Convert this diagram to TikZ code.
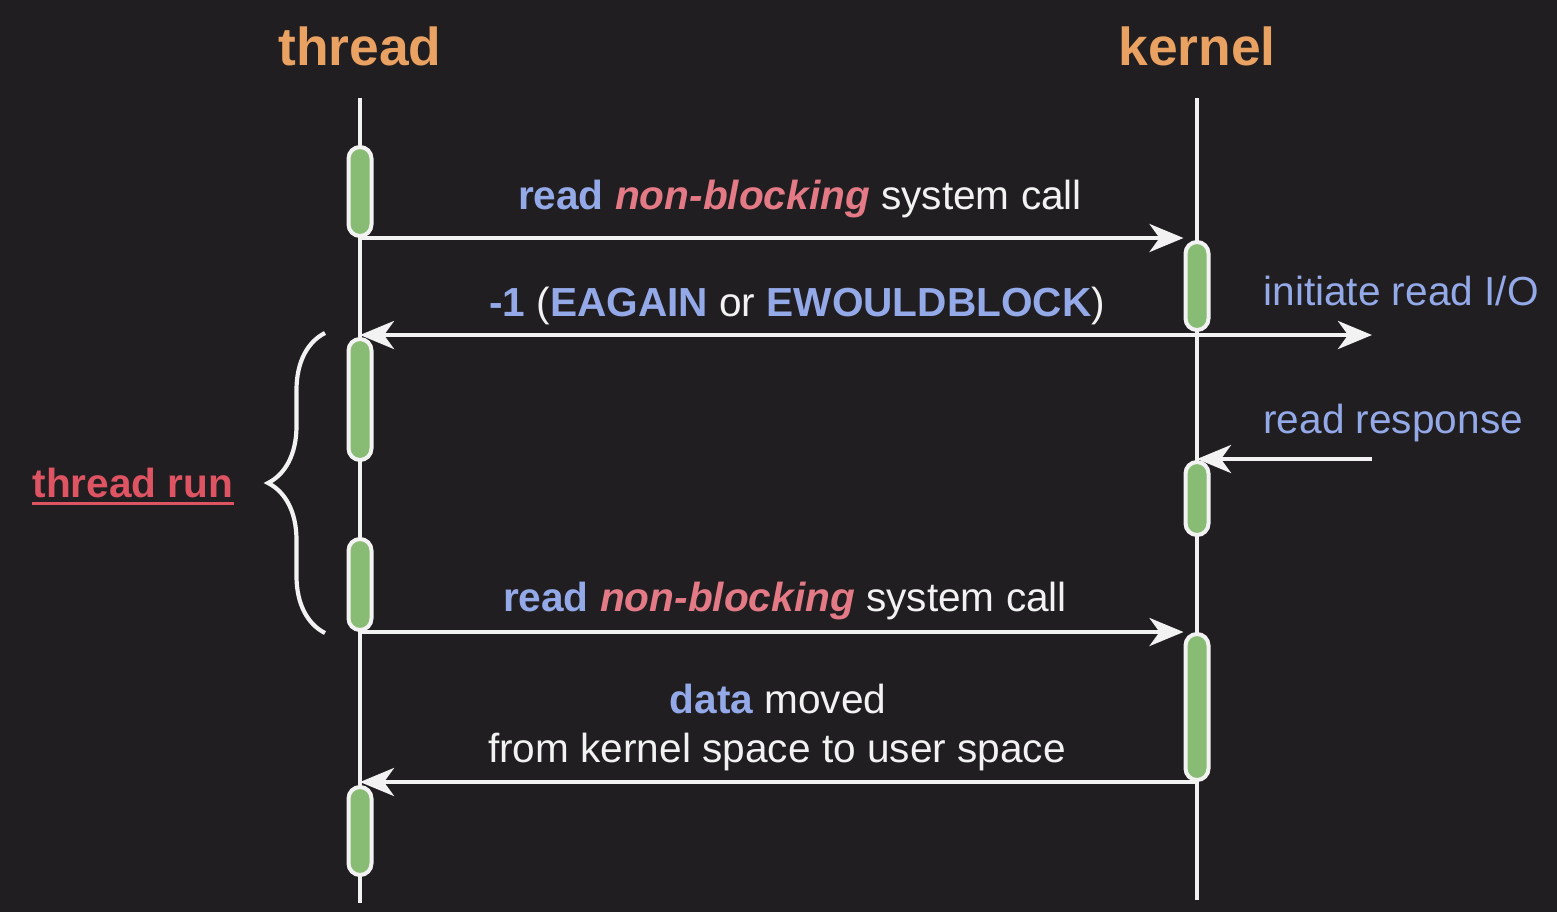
\documentclass[tikz,border=0pt]{standalone}
\usepackage{fontspec}
\setmainfont{Liberation Sans}
\usetikzlibrary{arrows.meta,decorations.pathreplacing}

\definecolor{bgcol}{HTML}{211E21}
\definecolor{titlecol}{HTML}{E9A262}
\definecolor{callcol}{HTML}{93A9E8}
\definecolor{nbcol}{HTML}{E47A86}
\definecolor{runcol}{HTML}{DE5463}
\definecolor{actcol}{HTML}{88BC74}
\definecolor{linecol}{HTML}{F2F2F2}

\newcommand\callkw[1]{\textcolor{callcol}{\bfseries #1}}
\newcommand\nbkw[1]{\textcolor{nbcol}{\bfseries\itshape #1}}

\begin{document}
\begin{tikzpicture}[x=0.5pt,y=-0.5pt,
    lifeline/.style={linecol,line width=2.1pt},
    act/.style={draw=linecol,fill=actcol,line width=2pt,rounded corners=5.75pt,
                minimum width=11.5pt,inner sep=0pt},
    msg/.style={linecol,line width=2.1pt,-{Stealth[length=17pt,width=14pt,inset=5pt]}},
    title/.style={titlecol,font=\fontsize{26.7}{30}\selectfont\bfseries,anchor=base},
    lbl/.style={linecol,font=\fontsize{20.3}{24}\selectfont,anchor=base,inner sep=0pt}]
  \fill[bgcol] (0,0) rectangle (1557,912);

  \node[title] (thread) at (360,65) {thread};
  \node[title] (kernel) at (1197,65) {kernel};
  \draw[lifeline] (360,98) -- (360,903);
  \draw[lifeline] (1197,98) -- (1197,900);

  % activations
  \node[act,minimum height=44.5pt] (t1) at (360,191.5) {};
  \node[act,minimum height=60.5pt] (t2) at (360,399.5) {};
  \node[act,minimum height=45.5pt] (t3) at (360,584.5) {};
  \node[act,minimum height=44pt]   (t4) at (360,831) {};
  \node[act,minimum height=44pt]   (k1) at (1197,286) {};
  \node[act,minimum height=36.5pt] (k2) at (1197,498.5) {};
  \node[act,minimum height=73pt]   (k3) at (1197,707) {};

  \coordinate (ioend) at (1372,335);
  \coordinate (respstart) at (1372,459);

  % messages
  \draw[msg] (t1.south) -- (t1.south -| k1.west);
  \draw[msg] (ioend -| k1) -- (ioend -| t2);
  \draw[msg] (ioend -| k1) -- (ioend);
  \draw[msg] (respstart) -- (respstart -| k2);
  \draw[msg] (t3.south) -- (t3.south -| k3.west);
  \draw[msg] (k3.south) -- (k3.south -| t4);

  \node[lbl] (call1) at (800,209) {\callkw{read} \nbkw{non-blocking} system call};
  \node[lbl] (ret1) at (797,316) {\callkw{-1} (\callkw{EAGAIN} or \callkw{EWOULDBLOCK})};
  \node[lbl,callcol,anchor=base west] (io) at (1263,305) {initiate read I/O};
  \node[lbl,callcol,anchor=base west] (resp) at (1263,433) {read response};
  \node[lbl] (call2) at (785,611) {\callkw{read} \nbkw{non-blocking} system call};
  \node[lbl] (moved) at (778,713) {\callkw{data} moved};
  \node[lbl] (copy) at (777,762) {from kernel space to user space};

  % thread run
  \draw[linecol,line width=2.1pt,decorate,decoration={brace,amplitude=28.5pt}]
    (325,633) -- (325,333);
  \node[runcol,font=\fontsize{20.3}{24}\selectfont\bfseries,anchor=base,inner sep=0pt]
    (run) at (133,497) {thread run};
  \draw[runcol,line width=1.5pt] ([yshift=-3.2pt]run.base west) -- ([yshift=-3.2pt]run.base east);
\end{tikzpicture}
\end{document}
